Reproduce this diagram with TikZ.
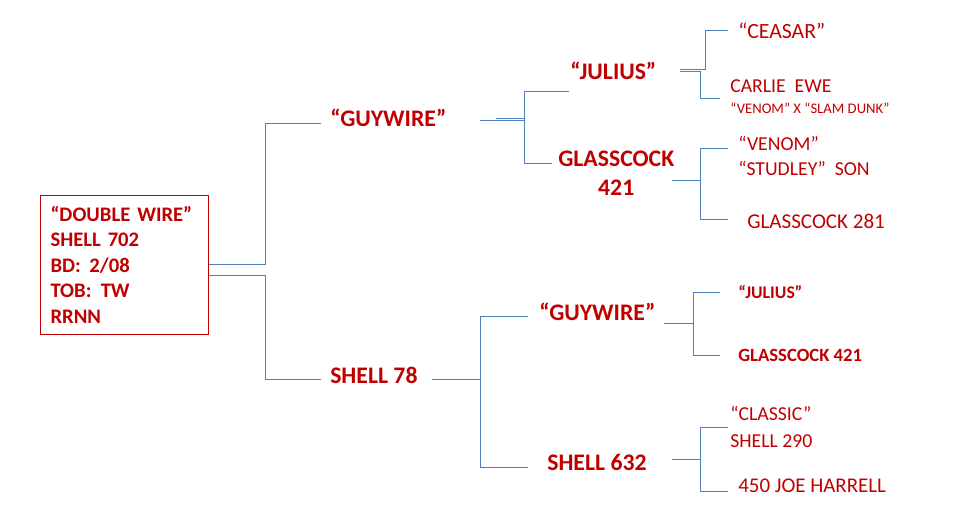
\documentclass[tikz,border=0pt]{standalone}
\usepackage{fontspec}
\setmainfont{Carlito}
\usetikzlibrary{calc}
\definecolor{pedred}{HTML}{C00000}
\definecolor{linkblue}{HTML}{4F81BD}

\begin{document}
\begin{tikzpicture}[x=0.75pt, y=-0.75pt,
    link/.style={linkblue, line width=0.75pt},
    dog/.style={anchor=west, inner sep=0pt, text=pedred},
    bigdog/.style={dog, font=\fontsize{17.8}{21.75}\selectfont\bfseries},
  ]
    \useasboundingbox (0,0) rectangle (956,514);

    % Main dog
    \node[draw=pedred, line width=0.75pt, anchor=north west, text width=111pt,
      minimum height=104pt, inner xsep=7.5pt, align=left, text=pedred,
      font=\fontsize{15.5}{19.1}\selectfont\bfseries] (dw) at (40,195)
      {“DOUBLE WIRE”\\SHELL 702\\BD:\hspace{6.5pt}2/08\\TOB:\hspace{7pt}TW\\RRNN};

    % Parents
    \node[bigdog] (guy) at (330,118) {“GUYWIRE”};
    \node[bigdog] (sh78) at (330,375) {SHELL 78};

    % Grandparents
    \node[bigdog] (jul) at (570,71) {“JULIUS”};
    \node[bigdog, align=center] (gc421) at (558,173.5) {GLASSCOCK\\421};
    \node[bigdog] (guy2) at (539,312) {“GUYWIRE”};
    \node[bigdog] (sh632) at (547,462) {SHELL 632};

    % Great grandparents
    \node[dog, font=\fontsize{16.3}{19}\selectfont] (ceasar) at (738,31) {“CEASAR”};
    \node[dog, font=\fontsize{14.8}{18}\selectfont] (carlie) at (730,86) {CARLIE\ \ EWE};
    \node[dog, font=\fontsize{11}{13}\selectfont] (cross) at (730,108) {“VENOM” X “SLAM DUNK”};
    \node[dog, align=left, font=\fontsize{14.8}{18.75}\selectfont] (venom) at (738,155.5)
      {“VENOM”\\“STUDLEY”\ \ SON};
    \node[dog, font=\fontsize{15.8}{19}\selectfont] (gc281) at (747,221) {GLASSCOCK 281};
    \node[dog, font=\fontsize{13.3}{16}\selectfont\bfseries] (jul2) at (738,292) {“JULIUS”};
    \node[dog, font=\fontsize{14}{17}\selectfont\bfseries] (gc2) at (738,355) {GLASSCOCK 421};
    \node[dog, align=left, font=\fontsize{14.8}{20.25}\selectfont] (classic) at (730,426.5)
      {“CLASSIC”\\SHELL 290};
    \node[dog, font=\fontsize{15.7}{19}\selectfont] (harrell) at (738,486) {450 JOE HARRELL};

    % Main dog to parents
    \draw[link] ($(dw.east)+(0,-0.5)$) -- ++(56,0) |- ($(guy.west)+(-9,5)$);
    \draw[link] ($(dw.east)+(0,10.5)$) -- ++(56,0) |- ($(sh78.west)+(-9,4)$);

    % Sire side
    \draw[link] ($(guy.west)+(150,2)$) -- ++(44,0) |- ($(jul.west)+(-1,20)$);
    \draw[link] ($(guy.west)+(150,2)$) -- ++(44,0) |- ($(gc421.west)+(-6,-10.5)$);
    \draw[link] ($(guy.west)+(166,0)$) -- ++(28,0);
    \draw[link] ($(jul.west)+(110,-2)$) -- ++(25,0) |- ($(ceasar.west)+(-10,-1)$);
    \draw[link] ($(jul.west)+(110,0)$) -- ++(20,0) |- ($(carlie.west)+(-10,12)$);
    \draw[link] ($(gc421.west)+(114,6.5)$) -- ++(28,0) |- ($(venom.west)+(-10,-7.5)$);
    \draw[link] ($(gc421.west)+(114,6.5)$) -- ++(28,0) |- ($(gc281.west)+(-19,-2)$);

    % Dam side
    \draw[link] ($(sh78.west)+(102,4)$) -- ++(48,0) |- ($(guy2.west)+(-11,4)$);
    \draw[link] ($(sh78.west)+(102,4)$) -- ++(48,0) |- ($(sh632.west)+(-19,5)$);
    \draw[link] ($(guy2.west)+(125,11)$) -- ++(29,0) |- ($(jul2.west)+(-18,0)$);
    \draw[link] ($(guy2.west)+(125,11)$) -- ++(29,0) |- ($(gc2.west)+(-18,0)$);
    \draw[link] ($(sh632.west)+(125,-3)$) -- ++(28,0) |- ($(classic.west)+(-2,0.5)$);
    \draw[link] ($(sh632.west)+(125,-3)$) -- ++(28,0) |- ($(harrell.west)+(-10,5)$);
\end{tikzpicture}
\end{document}
